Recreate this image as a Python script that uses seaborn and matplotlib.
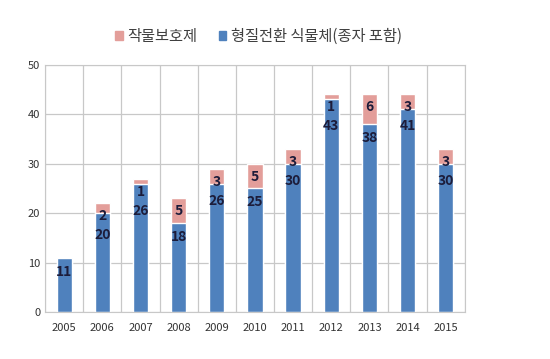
import numpy as np
import pandas as pd
import matplotlib
matplotlib.use("Agg")
import matplotlib.pyplot as plt
import seaborn as sns
from matplotlib.patches import Patch

years = ["2005", "2006", "2007", "2008", "2009", "2010", "2011", "2012", "2013", "2014", "2015"]
plants = [11, 20, 26, 18, 26, 25, 30, 43, 38, 41, 30]      # 형질전환 식물체(종자 포함)
protect = [0, 2, 1, 5, 3, 5, 3, 1, 6, 3, 3]                # 작물보호제

blue = "#4f81bd"
pink = "#e39e9a"
lab_col = "#1c1c3a"

sns.set_style("white")
plt.rcParams["font.family"] = ["Noto Sans CJK KR", "DejaVu Sans"]

df = pd.DataFrame({"year": years, "plants": plants, "protect": protect})
df["total"] = df["plants"] + df["protect"]

fig, ax = plt.subplots(figsize=(5.5, 3.59), dpi=100)
fig.subplots_adjust(left=0.082, right=0.845, top=0.82, bottom=0.13)

# stacked look: draw totals first, then the lower series over them
sns.barplot(data=df, x="year", y="total", color=pink, width=0.4, saturation=1, ax=ax)
sns.barplot(data=df, x="year", y="plants", color=blue, width=0.4, saturation=1, ax=ax)

ax.set_ylim(0, 50)
# pixels per data unit, used to keep the two labels from running into each other
ppu = ax.get_window_extent().height / 50
pt = 0.72  # points per pixel at dpi 100

for i, row in df.iterrows():
    pink_off = 13
    blue_off = 14
    if row["protect"] > 0:
        ax.annotate(str(row["protect"]), (i, row["total"]), xytext=(0, -pink_off * pt), textcoords="offset points",
                    ha="center", va="center", fontsize=10, fontweight="bold", color=lab_col)
        blue_off = max(blue_off, pink_off + 19 - row["protect"] * ppu)
    ax.annotate(str(row["plants"]), (i, row["plants"]), xytext=(0, -blue_off * pt), textcoords="offset points",
                ha="center", va="center", fontsize=10, fontweight="bold", color=lab_col)

ax.set_xlim(-0.5, len(years) - 0.5)
ax.set_yticks(range(0, 51, 10))
ax.set_xticks(np.arange(-0.5, len(years), 1), minor=True)
ax.grid(axis="y", color="#c8c8c8", lw=0.9)
ax.grid(axis="x", which="minor", color="#c8c8c8", lw=0.9)
ax.set_axisbelow(True)
ax.set_xlabel("")
ax.set_ylabel("")
ax.tick_params(axis="both", which="both", length=0, labelsize=8, colors="#333333")
ax.tick_params(axis="x", pad=8)
for s in ax.spines.values():
    s.set_color("#c8c8c8")

handles = [Patch(color=pink, label="작물보호제"), Patch(color=blue, label="형질전환 식물체(종자 포함)")]
fig.legend(handles=handles, loc="upper center", bbox_to_anchor=(0.47, 0.96), ncol=2, frameon=False,
           fontsize=11, labelcolor="#404040", handlelength=0.5, handleheight=0.5, handletextpad=0.3,
           columnspacing=1.4)

fig.savefig("out.png", dpi=100)
